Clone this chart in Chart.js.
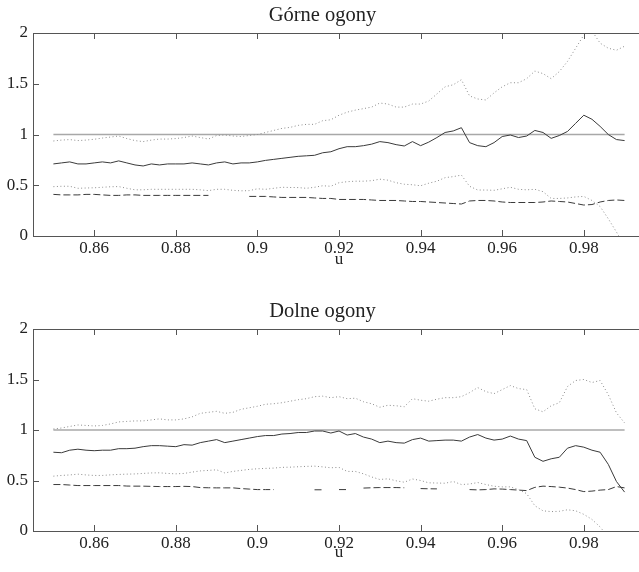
<!DOCTYPE html>
<html>
<head>
<meta charset="utf-8">
<script src="https://cdn.jsdelivr.net/npm/chart.js@4.4.1/dist/chart.umd.min.js"></script>
<style>
  html, body { margin: 0; padding: 0; background: #fff; overflow: hidden; width: 639px; height: 572px; }
  canvas { position: absolute; left: 0; }
  #upper { top: 0; }
  #lower { top: 296px; }
</style>
</head>
<body>
<canvas id="upper" width="660" height="270"></canvas>
<canvas id="lower" width="660" height="270"></canvas>
<script>
// threshold grid u
const u = [
  0.85, 0.852, 0.854, 0.856, 0.858, 0.86, 0.862, 0.864, 0.866, 0.868,
  0.87, 0.872, 0.874, 0.876, 0.878, 0.88, 0.882, 0.884, 0.886, 0.888,
  0.89, 0.892, 0.894, 0.896, 0.898, 0.9, 0.902, 0.904, 0.906, 0.908,
  0.91, 0.912, 0.914, 0.916, 0.918, 0.92, 0.922, 0.924, 0.926, 0.928,
  0.93, 0.932, 0.934, 0.936, 0.938, 0.94, 0.942, 0.944, 0.946, 0.948,
  0.95, 0.952, 0.954, 0.956, 0.958, 0.96, 0.962, 0.964, 0.966, 0.968,
  0.97, 0.972, 0.974, 0.976, 0.978, 0.98, 0.982, 0.984, 0.986, 0.988,
  0.99
];

const xTicks = [0.86, 0.88, 0.9, 0.92, 0.94, 0.96, 0.98];
const xTickLabels = ['0.86', '0.88', '0.9', '0.92', '0.94', '0.96', '0.98'];
const yTicks = [0, 0.5, 1, 1.5, 2];
const yTickLabels = ['0', '0.5', '1', '1.5', '2'];

const refU = [0.85, 0.99];
const refLevel = [1, 1];

// Górne ogony
const upperEst = [
  0.71, 0.72, 0.73, 0.71, 0.71, 0.72, 0.73, 0.72, 0.74, 0.72,
  0.70, 0.69, 0.71, 0.70, 0.71, 0.71, 0.71, 0.72, 0.71, 0.70,
  0.72, 0.73, 0.71, 0.72, 0.72, 0.73, 0.745, 0.755, 0.765, 0.775,
  0.785, 0.79, 0.795, 0.82, 0.83, 0.86, 0.88, 0.88, 0.89, 0.905,
  0.93, 0.92, 0.90, 0.887, 0.93, 0.89, 0.925, 0.97, 1.02, 1.035,
  1.067, 0.92, 0.89, 0.88, 0.92, 0.98, 0.995, 0.97, 0.985, 1.04,
  1.02, 0.962, 0.99, 1.03, 1.11, 1.19, 1.15, 1.08, 1.0, 0.95,
  0.94
];
const upperHi = [
  0.936, 0.945, 0.95, 0.94, 0.945, 0.953, 0.965, 0.975, 0.985, 0.96,
  0.94, 0.93, 0.945, 0.955, 0.955, 0.96, 0.97, 0.985, 0.97, 0.955,
  0.99, 0.995, 0.985, 0.98, 0.99, 1.0, 1.02, 1.04, 1.06, 1.07,
  1.09, 1.10, 1.10, 1.136, 1.145, 1.19, 1.22, 1.24, 1.255, 1.27,
  1.31, 1.30, 1.27, 1.27, 1.30, 1.30, 1.33, 1.40, 1.47, 1.49,
  1.54, 1.38, 1.35, 1.34, 1.41, 1.47, 1.51, 1.51, 1.55, 1.625,
  1.60, 1.55, 1.62, 1.72, 1.85, 1.98, 2.02, 1.90, 1.85, 1.83,
  1.87
];
const upperLo = [
  0.486, 0.49, 0.49, 0.47, 0.473, 0.475, 0.48, 0.485, 0.487, 0.47,
  0.455, 0.455, 0.46, 0.46, 0.46, 0.46, 0.46, 0.46, 0.455, 0.447,
  0.46, 0.46, 0.45, 0.445, 0.447, 0.465, 0.46, 0.47, 0.48, 0.478,
  0.477, 0.47, 0.48, 0.495, 0.49, 0.525, 0.535, 0.54, 0.54, 0.545,
  0.56, 0.55, 0.525, 0.51, 0.505, 0.495, 0.52, 0.54, 0.575, 0.585,
  0.60, 0.49, 0.453, 0.453, 0.45, 0.465, 0.48, 0.46, 0.455, 0.46,
  0.437, 0.37, 0.37, 0.375, 0.385, 0.39, 0.35, 0.29, 0.17, 0.04,
  -0.1
];
const upperDash = [
  0.41, 0.405, 0.405, 0.405, 0.41, 0.41, 0.405, 0.40, 0.40, 0.405,
  0.405, 0.40, 0.40, 0.40, 0.40, 0.40, 0.40, 0.40, 0.40, 0.40,
  null, null, null, null, 0.39, 0.39, 0.39, 0.385, 0.38, 0.38,
  0.38, 0.38, 0.375, 0.37, 0.37, 0.36, 0.36, 0.36, 0.36, 0.355,
  0.35, 0.35, 0.35, 0.345, 0.34, 0.34, 0.335, 0.33, 0.325, 0.32,
  0.315, 0.345, 0.35, 0.35, 0.345, 0.335, 0.33, 0.33, 0.33, 0.33,
  0.335, 0.345, 0.34, 0.335, 0.32, 0.305, 0.31, 0.335, 0.35, 0.355,
  0.35
];

// Dolne ogony
const lowerEst = [
  0.78, 0.775, 0.80, 0.81, 0.80, 0.795, 0.80, 0.80, 0.815, 0.815,
  0.82, 0.835, 0.845, 0.845, 0.84, 0.835, 0.855, 0.85, 0.875, 0.89,
  0.905, 0.875, 0.89, 0.905, 0.92, 0.935, 0.945, 0.945, 0.96, 0.965,
  0.975, 0.975, 0.99, 0.99, 0.97, 0.99, 0.95, 0.965, 0.93, 0.91,
  0.875, 0.89, 0.875, 0.87, 0.905, 0.92, 0.89, 0.895, 0.90, 0.90,
  0.89, 0.93, 0.955, 0.92, 0.90, 0.91, 0.94, 0.91, 0.895, 0.73,
  0.69, 0.715, 0.73, 0.82, 0.845, 0.83, 0.80, 0.78, 0.66, 0.49,
  0.385
];
const lowerHi = [
  1.01, 1.02, 1.035, 1.05, 1.045, 1.04, 1.045, 1.06, 1.08, 1.085,
  1.09, 1.09, 1.10, 1.11, 1.10, 1.10, 1.11, 1.13, 1.165, 1.175,
  1.185, 1.165, 1.175, 1.205, 1.22, 1.235, 1.255, 1.26, 1.27, 1.285,
  1.30, 1.31, 1.33, 1.335, 1.32, 1.33, 1.31, 1.315, 1.28, 1.26,
  1.225, 1.245, 1.24, 1.23, 1.31, 1.295, 1.285, 1.305, 1.32, 1.32,
  1.33, 1.37, 1.42, 1.38, 1.36, 1.40, 1.44, 1.41, 1.40, 1.21,
  1.18, 1.24, 1.27, 1.43, 1.49, 1.50, 1.47, 1.49, 1.35, 1.17,
  1.07
];
const lowerLo = [
  0.543, 0.55, 0.555, 0.563, 0.555, 0.55, 0.55, 0.556, 0.56, 0.563,
  0.565, 0.57, 0.575, 0.576, 0.57, 0.566, 0.57, 0.583, 0.595, 0.60,
  0.606, 0.575, 0.59, 0.60, 0.61, 0.616, 0.62, 0.623, 0.63, 0.632,
  0.636, 0.64, 0.642, 0.635, 0.626, 0.63, 0.59, 0.59, 0.566, 0.535,
  0.51, 0.517, 0.497, 0.483, 0.515, 0.50, 0.477, 0.475, 0.473, 0.49,
  0.46, 0.465, 0.48, 0.46, 0.443, 0.437, 0.437, 0.41, 0.37, 0.25,
  0.20, 0.192, 0.195, 0.21, 0.20, 0.165, 0.115, 0.04, -0.06, -0.15,
  -0.25
];
const lowerDash = [
  0.46, 0.46, 0.455, 0.45, 0.45, 0.45, 0.45, 0.45, 0.45, 0.445,
  0.444, 0.444, 0.442, 0.44, 0.44, 0.44, 0.442, 0.44, 0.43, 0.428,
  0.427, 0.427, 0.427, 0.42, 0.415, 0.41, 0.41, 0.41, null, null,
  null, null, 0.408, 0.408, null, 0.41, 0.41, null, 0.425, 0.428,
  0.43, 0.43, 0.43, 0.428, null, 0.42, 0.418, 0.417, null, null,
  null, 0.41, 0.407, 0.41, 0.417, 0.415, 0.41, 0.405, 0.40, 0.432,
  0.444, 0.44, 0.434, 0.425, 0.41, 0.39, 0.395, 0.405, 0.41, 0.44,
  0.427
];

const serif = "'Liberation Serif', 'Times New Roman', serif";
const ink = '#222';

const pts = (xs, ys) => xs.map((x, i) => ({ x: x, y: ys[i] }));

// box around the plot plus matlab style inward ticks
const framePlugin = {
  id: 'frame',
  afterDraw(chart) {
    const { ctx, chartArea: a, scales } = chart;
    const tl = 6;
    ctx.save();
    ctx.strokeStyle = '#555';
    ctx.lineWidth = 1;
    ctx.beginPath();
    ctx.rect(Math.round(a.left) + 0.5, Math.round(a.top) + 0.5,
      Math.round(a.right - a.left), Math.round(a.bottom - a.top));
    scales.x.ticks.forEach(t => {
      const px = Math.round(scales.x.getPixelForValue(t.value)) + 0.5;
      ctx.moveTo(px, a.bottom); ctx.lineTo(px, a.bottom - tl);
      ctx.moveTo(px, a.top); ctx.lineTo(px, a.top + tl);
    });
    scales.y.ticks.forEach(t => {
      const py = Math.round(scales.y.getPixelForValue(t.value)) + 0.5;
      ctx.moveTo(a.left, py); ctx.lineTo(a.left + tl, py);
      ctx.moveTo(a.right, py); ctx.lineTo(a.right - tl, py);
    });
    ctx.stroke();
    ctx.restore();
  }
};

function makeChart(id, title, est, hi, lo, dash, xAxisHeight, uPad) {
  const ctx = document.getElementById(id).getContext('2d');
  return new Chart(ctx, {
    type: 'line',
    data: {
      datasets: [
        { data: pts(u, est), borderColor: '#3a3a3a', borderWidth: 1 },
        { data: pts(u, hi), borderColor: '#8c8c8c', borderWidth: 1, borderDash: [1, 2.5] },
        { data: pts(u, lo), borderColor: '#8c8c8c', borderWidth: 1, borderDash: [1, 2.5] },
        { data: pts(u, dash), borderColor: '#3a3a3a', borderWidth: 1, borderDash: [7, 3], spanGaps: false },
        { data: pts(refU, refLevel), borderColor: '#a8a8a8', borderWidth: 1.5 }
      ]
    },
    options: {
      responsive: false,
      animation: false,
      devicePixelRatio: 1,
      layout: { padding: { left: 0, right: 15, top: 3, bottom: 0 } },
      elements: { point: { radius: 0 }, line: { tension: 0 } },
      plugins: {
        legend: { display: false },
        tooltip: { enabled: false },
        title: {
          display: true,
          text: title,
          color: ink,
          font: { family: serif, size: 20.5, weight: 'normal' },
          padding: { top: 0, bottom: 5.4 }
        }
      },
      scales: {
        x: {
          type: 'linear',
          min: 0.845,
          max: 0.995,
          afterBuildTicks: s => { s.ticks = xTicks.map(v => ({ value: v })); },
          afterFit: s => { s.height = xAxisHeight; },
          grid: { display: false, drawTicks: false },
          border: { display: false },
          ticks: {
            padding: 2,
            autoSkip: false,
            maxRotation: 0,
            color: ink,
            font: { family: serif, size: 17 },
            callback: (v, i) => xTickLabels[i]
          },
          title: {
            display: true,
            text: 'u',
            color: ink,
            font: { family: serif, size: 17 },
            padding: { top: 0, bottom: uPad }
          }
        },
        y: {
          min: 0,
          max: 2,
          afterBuildTicks: s => { s.ticks = yTicks.map(v => ({ value: v })); },
          afterFit: s => { s.width = 33; },
          grid: { display: false, drawTicks: false },
          border: { display: false },
          ticks: {
            padding: 5,
            color: ink,
            font: { family: serif, size: 17 },
            callback: (v, i) => yTickLabels[i]
          }
        }
      }
    },
    plugins: [framePlugin]
  });
}

makeChart('upper', 'Górne ogony', upperEst, upperHi, upperLo, upperDash, 34, 0);
makeChart('lower', 'Dolne ogony', lowerEst, lowerHi, lowerLo, lowerDash, 35, 3);
</script>
</body>
</html>
